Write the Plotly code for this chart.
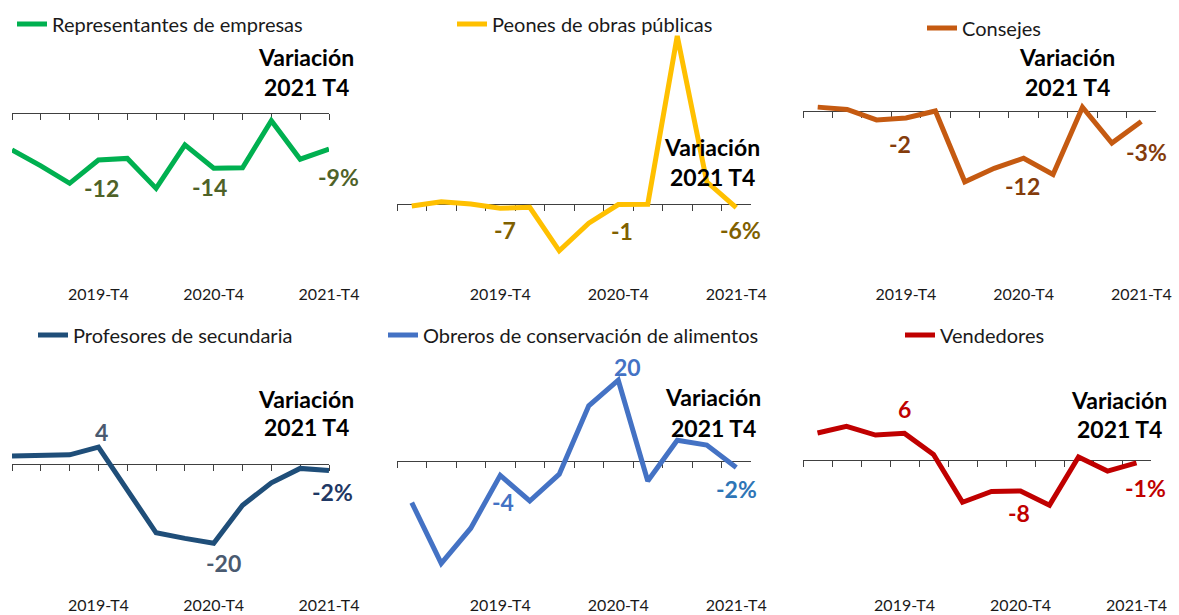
import plotly.graph_objects as go

# ---------------- data ----------------
quarters = ['2019-T1', '2019-T2', '2019-T3', '2019-T4',
            '2020-T1', '2020-T2', '2020-T3', '2020-T4',
            '2021-T1', '2021-T2', '2021-T3', '2021-T4']
tick_labels = ['2019-T4', '2020-T4', '2021-T4']

representantes = [-9.4, -13.5, -18.0, -12.0, -11.6, -19.3, -8.1, -14.1, -14.0, -1.9, -11.8, -9.2]
peones = [-3.3, 3.9, 0.0, -7.0, -5.6, -78.0, -32.0, -1.0, -0.5, 280.0, 37.0, -6.0]
consejes = [1.0, 0.4, -2.3, -1.8, 0.0, -18.3, -14.8, -12.2, -16.4, 1.0, -8.3, -2.7]
profesores = [2.0, 2.2, 2.3, 4.2, -6.5, -17.2, -18.6, -19.8, -10.3, -4.7, -1.1, -1.6]
obreros = [-10.4, -25.6, -16.8, -3.6, -10.0, -3.3, 13.8, 20.2, -5.0, 5.2, 4.0, -1.6]
vendedores = [6.4, 8.0, 5.9, 6.3, 1.2, -10.3, -7.7, -7.6, -11.0, 0.6, -2.8, -0.8]

series_names = ['Representantes de empresas', 'Peones de obras públicas', 'Consejes',
                'Profesores de secundaria', 'Obreros de conservación de alimentos', 'Vendedores']
series_values = [representantes, peones, consejes, profesores, obreros, vendedores]
label_idx = [3, 7, 11]
note_lines = ['Variación', '2021 T4']

# ---------------- style / layout ----------------
W, H = 1179, 615
FONT = 'Lato, Carlito, Calibri, sans-serif'

def fx(px):
    return px / W

def fy(py):
    return 1 - py / H

panels = [
    dict(color='#00B050', lab_col=['#4F6228'] * 3, offs=[(3, 28), (-4, 19), (9, 28)],
         xpx=(12, 329), ypx=(30, 281), zero=113.3, ppu=3.89, on=True,
         leg=(17, 24), note=(306, 57, 87)),
    dict(color='#FFC000', lab_col=['#7F6000'] * 3, offs=[(5, 22), (4, 26), (4, 22)],
         xpx=(397, 751), ypx=(30, 281), zero=204.0, ppu=0.6, on=False,
         leg=(457, 24), note=(712, 147, 177)),
    dict(color='#C55A11', lab_col=['#843C0C'] * 3, offs=[(-6, 26), (-1, 28), (5, 31)],
         xpx=(803, 1156), ypx=(30, 281), zero=111.0, ppu=3.87, on=False,
         leg=(927, 28), note=(1067, 57, 87)),
    dict(color='#1F4E79', lab_col=['#4A5A70', '#4A5A70', '#1F3864'], offs=[(3, -15), (10, 20), (3, 22)],
         xpx=(12, 329), ypx=(340, 592), zero=464.0, ppu=4.0, on=True,
         leg=(38, 335), note=(306, 399, 427)),
    dict(color='#4472C4', lab_col=['#4472C4', '#4472C4', '#2E75B6'], offs=[(3, 27), (9, -13), (0, 22)],
         xpx=(397, 751), ypx=(340, 592), zero=461.0, ppu=4.0, on=False,
         leg=(388, 335), note=(713, 397, 428)),
    dict(color='#C00000', lab_col=['#C00000'] * 3, offs=[(0, -24), (-2, 22), (9, 25)],
         xpx=(803, 1151), ypx=(340, 592), zero=459.5, ppu=4.15, on=False,
         leg=(905, 335), note=(1119, 400, 429)),
]

fig = go.Figure()
layout = dict(
    width=W, height=H, autosize=False,
    margin=dict(l=0, r=0, t=0, b=0, pad=0, autoexpand=False),
    paper_bgcolor='white', plot_bgcolor='rgba(0,0,0,0)',
    font=dict(family=FONT, color='#1a1a1a'),
    annotations=[],
    hovermode=False,
)

for i, (name, vals, p) in enumerate(zip(series_names, series_values, panels)):
    n = i + 1
    m = n + 6
    x0, x1 = p['xpx']
    top, bot = p['ypx']
    ymax = (p['zero'] - top) / p['ppu']
    ymin = -(bot - p['zero']) / p['ppu']
    xr = [0, 11] if p['on'] else [-0.5, 11.5]
    leg_name = 'legend' if n == 1 else f'legend{n}'

    # invisible trace carrying the zero-line axis
    fig.add_trace(go.Scatter(x=quarters, y=vals, xaxis=f'x{m}', yaxis=f'y{n}',
                             mode='lines', line=dict(width=0, color='rgba(0,0,0,0)'),
                             showlegend=False, hoverinfo='skip'))
    # visible series
    fig.add_trace(go.Scatter(x=quarters, y=vals, xaxis=f'x{n}', yaxis=f'y{n}',
                             mode='lines', name=name, legend=leg_name,
                             line=dict(color=p['color'], width=5),
                             hoverinfo='skip'))

    layout[f'xaxis{n}'] = dict(
        domain=[fx(x0), fx(x1)], anchor=f'y{n}', type='category',
        categoryorder='array', categoryarray=quarters, range=xr,
        tickmode='array', tickvals=tick_labels, ticktext=tick_labels,
        showline=False, ticks='', showgrid=False, zeroline=False, automargin=False,
        tickfont=dict(family=FONT, size=16, color='#1a1a1a'), ticklabelstandoff=2)
    layout[f'yaxis{n}'] = dict(
        domain=[fy(bot), fy(top)], anchor=f'x{n}', range=[ymin, ymax], visible=False)
    layout[f'xaxis{m}'] = dict(
        overlaying=f'x{n}', anchor='free', position=fy(p['zero']), type='category',
        categoryorder='array', categoryarray=quarters, range=xr,
        tickmode='linear', tick0=0, dtick=1,
        tickson='labels' if p['on'] else 'boundaries',
        ticks='outside', ticklen=6, tickwidth=1, tickcolor='#404040',
        showline=True, linecolor='#404040', linewidth=1, automargin=False,
        showticklabels=False, showgrid=False, zeroline=False, layer='below traces')

    layout[leg_name] = dict(
        x=fx(p['leg'][0] - 5), y=fy(p['leg'][1]), xanchor='left', yanchor='middle',
        bgcolor='rgba(0,0,0,0)', borderwidth=0, itemwidth=30,
        font=dict(family=FONT, size=20, color='#1a1a1a'))

    for k, col, (dx, dy) in zip(label_idx, p['lab_col'], p['offs']):
        txt = f"{round(vals[k])}" + ('%' if k == len(quarters) - 1 else '')
        layout['annotations'].append(dict(
            x=quarters[k], y=vals[k], xref=f'x{n}', yref=f'y{n}', text=f'<b>{txt}</b>',
            showarrow=False, xshift=dx, yshift=-dy, xanchor='center', yanchor='middle',
            font=dict(family=FONT, size=23, color=col)))

    cx, cy1, cy2 = p['note']
    for line, cy in zip(note_lines, (cy1, cy2)):
        layout['annotations'].append(dict(
            x=fx(cx), y=fy(cy), xref='paper', yref='paper', text=f'<b>{line}</b>',
            showarrow=False, xanchor='center', yanchor='middle',
            font=dict(family=FONT, size=23, color='#000000')))

fig.update_layout(**layout)

post = ("document.body.style.margin='0';"
        "document.body.style.overflow='hidden';"
        "var gd=document.getElementById('{plot_id}');"
        "gd.style.width='1179px';gd.style.height='615px';"
        "Plotly.relayout(gd,{width:1179,height:615});")
fig.write_html("out.html", post_script=post,
               config={'responsive': False, 'displayModeBar': False})
